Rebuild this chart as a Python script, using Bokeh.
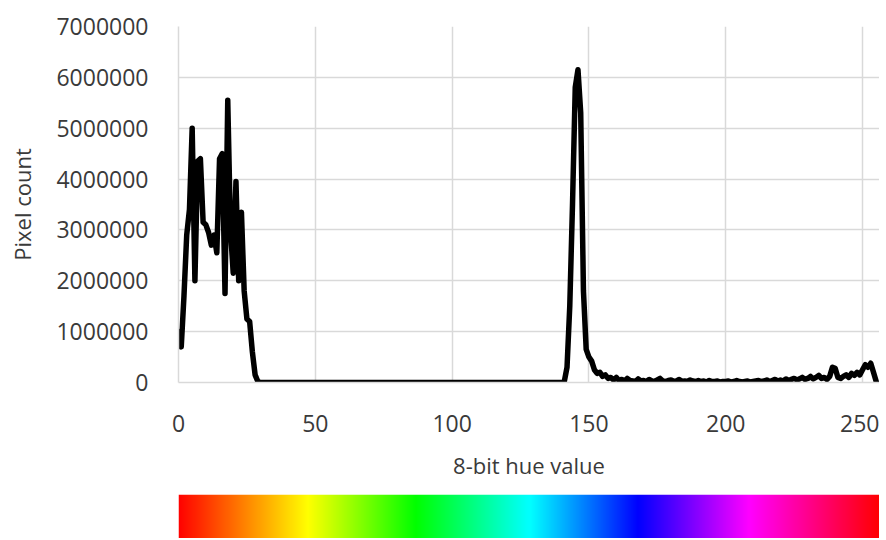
import numpy as np
from bokeh.plotting import figure
from bokeh.layouts import column
from bokeh.models import FixedTicker, NumeralTickFormatter, Range1d
from bokeh.embed import file_html
from bokeh.resources import INLINE

# ---------------- data ----------------
hue = list(range(256))

# pixel count per 8-bit hue value, in millions
count_millions = [
    # 0-29
    1.00, 0.70, 1.70, 2.90, 3.40, 5.00, 2.00, 4.35, 4.40, 3.15,
    3.10, 2.95, 2.70, 2.90, 2.55, 4.40, 4.50, 1.75, 5.55, 3.00,
    2.15, 3.95, 2.00, 3.35, 1.80, 1.25, 1.20, 0.60, 0.15, 0.02,
    # 30-139
    0, 0, 0, 0, 0, 0, 0, 0, 0, 0,
    0, 0, 0, 0, 0, 0, 0, 0, 0, 0,
    0, 0, 0, 0, 0, 0, 0, 0, 0, 0,
    0, 0, 0, 0, 0, 0, 0, 0, 0, 0,
    0, 0, 0, 0, 0, 0, 0, 0, 0, 0,
    0, 0, 0, 0, 0, 0, 0, 0, 0, 0,
    0, 0, 0, 0, 0, 0, 0, 0, 0, 0,
    0, 0, 0, 0, 0, 0, 0, 0, 0, 0,
    0, 0, 0, 0, 0, 0, 0, 0, 0, 0,
    0, 0, 0, 0, 0, 0, 0, 0, 0, 0,
    0, 0, 0, 0, 0, 0, 0, 0, 0, 0,
    # 140-149
    0.00, 0.02, 0.30, 1.50, 3.50, 5.80, 6.15, 5.30, 1.80, 0.65,
    # 150-255
    0.50, 0.42, 0.25, 0.18, 0.20, 0.12, 0.15, 0.08, 0.10, 0.05,
    0.10, 0.04, 0.06, 0.03, 0.08, 0.04, 0.03, 0.02, 0.07, 0.03,
    0.04, 0.02, 0.06, 0.03, 0.02, 0.05, 0.08, 0.03, 0.02, 0.04,
    0.05, 0.02, 0.03, 0.06, 0.02, 0.03, 0.02, 0.05, 0.03, 0.02,
    0.04, 0.02, 0.03, 0.01, 0.04, 0.02, 0.02, 0.03, 0.01, 0.02,
    0.02, 0.03, 0.01, 0.02, 0.04, 0.02, 0.01, 0.02, 0.03, 0.01,
    0.02, 0.03, 0.04, 0.02, 0.03, 0.05, 0.02, 0.04, 0.06, 0.03,
    0.05, 0.03, 0.07, 0.04, 0.06, 0.08, 0.05, 0.07, 0.10, 0.06,
    0.08, 0.12, 0.07, 0.10, 0.14, 0.08, 0.10, 0.06, 0.12, 0.30,
    0.28, 0.10, 0.08, 0.12, 0.15, 0.10, 0.18, 0.14, 0.20, 0.15,
    0.25, 0.35, 0.30, 0.38, 0.20, 0.02,
]
pixel_count = [v * 1_000_000 for v in count_millions]

x_ticks = [0, 50, 100, 150, 200, 250]
y_ticks = [0, 1000000, 2000000, 3000000, 4000000, 5000000, 6000000, 7000000]

x_label = "8-bit hue value"
y_label = "Pixel count"

# hue colour bar: stop positions (fraction of bar) and colours
bar_stops = [0.0, 0.185, 0.339, 0.501, 0.655, 0.814, 1.0]
bar_colors = [(255, 0, 0), (255, 255, 0), (0, 255, 0), (0, 255, 255),
              (0, 0, 255), (255, 0, 255), (255, 0, 0)]

# ---------------- style ----------------
FONT = "Open Sans"
TEXT = "#3a3a3a"
GRID = "#d9d9d9"
X_END = 256.2

xr = Range1d(0, X_END)

p = figure(width=879, height=494, x_range=xr, y_range=Range1d(0, 7000000),
           output_backend="svg", toolbar_location=None,
           min_border_left=178, min_border_right=0,
           min_border_top=26, min_border_bottom=112)
p.outline_line_color = None
p.background_fill_color = "white"

p.line(hue, pixel_count, line_color="black", line_width=5.5,
       line_join="round", line_cap="round")

p.xaxis.ticker = FixedTicker(ticks=x_ticks)
p.yaxis.ticker = FixedTicker(ticks=y_ticks)
p.yaxis.formatter = NumeralTickFormatter(format="0")

for ax in (p.xaxis[0], p.yaxis[0]):
    ax.axis_line_color = GRID
    ax.axis_line_width = 1.5
    ax.major_tick_line_color = None
    ax.minor_tick_line_color = None
    ax.major_tick_out = 0
    ax.major_tick_in = 0
    ax.major_label_text_font = FONT
    ax.major_label_text_font_size = "23px"
    ax.major_label_text_color = TEXT
    ax.axis_label_text_font = FONT
    ax.axis_label_text_font_size = "22px"
    ax.axis_label_text_font_style = "normal"
    ax.axis_label_text_color = TEXT

p.xaxis.axis_label = x_label
p.yaxis.axis_label = y_label
p.xaxis.major_label_standoff = 32
p.xaxis.axis_label_standoff = 15
p.yaxis.major_label_standoff = 30
p.yaxis.axis_label_standoff = 16

p.xgrid.ticker = FixedTicker(ticks=x_ticks)
p.ygrid.ticker = FixedTicker(ticks=y_ticks)
p.grid.grid_line_color = GRID
p.grid.grid_line_width = 1.5

# ---------------- colour bar ----------------
n_px = 700
fr = (np.arange(n_px) + 0.5) / n_px
img = np.zeros((1, n_px), dtype=np.uint32)
view = img.view(dtype=np.uint8).reshape((1, n_px, 4))
for k in range(3):
    view[0, :, k] = np.round(np.interp(fr, bar_stops, [c[k] for c in bar_colors])).astype(np.uint8)
view[0, :, 3] = 255

cb = figure(width=879, height=44, x_range=xr, y_range=Range1d(0, 1),
            output_backend="svg", toolbar_location=None,
            min_border_left=178, min_border_right=0,
            min_border_top=0, min_border_bottom=0)
cb.image_rgba(image=[img], x=0, y=0, dw=X_END, dh=1)
cb.axis.visible = False
cb.grid.visible = False
cb.outline_line_color = None

layout = column(p, cb, spacing=0)

open("out.html", "w").write(file_html(layout, INLINE))
